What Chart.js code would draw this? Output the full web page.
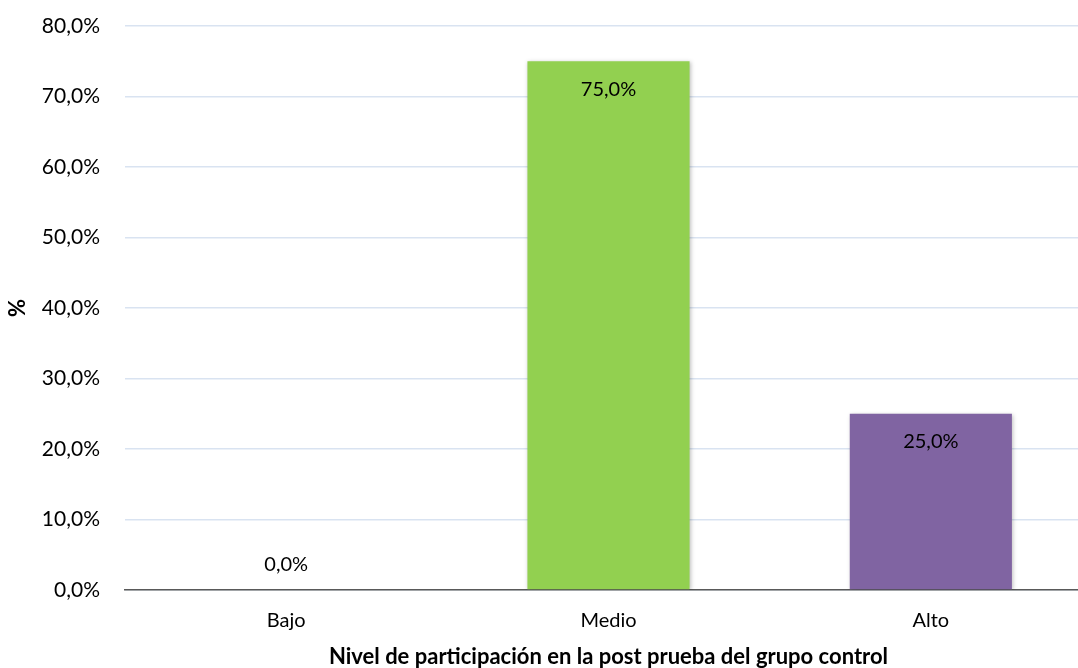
<!DOCTYPE html>
<html>
<head>
<meta charset="utf-8">
<script src="https://cdn.jsdelivr.net/npm/chart.js@4"></script>
<style>
    html, body { margin: 0; padding: 0; background: #fff; overflow: hidden; }
    #caja { width: 1092px; height: 668px; }
</style>
</head>
<body>
<div id="caja"><canvas id="grafico" width="1092" height="668"></canvas></div>
<script>
const categorias = ["Bajo", "Medio", "Alto"];
const porcentajes = [0, 75, 25];
const colores = ["#92D050", "#92D050", "#8064A2"];
const tituloX = "Nivel de participación en la post prueba del grupo control";
const tituloY = "%";

const fuente = "Lato, 'Open Sans', sans-serif";

function formatoPct(v) {
    return v.toFixed(1).replace(".", ",") + "%";
}

// etiquetas de valor y titulos de ejes
const etiquetas = {
    id: "etiquetas",
    beforeDatasetsDraw(chart) {
        chart.ctx.save();
        chart.ctx.shadowColor = "rgba(0,0,0,0.25)";
        chart.ctx.shadowBlur = 4;
        chart.ctx.shadowOffsetX = 1;
        chart.ctx.shadowOffsetY = 1;
    },
    afterDatasetsDraw(chart) {
        const ctx = chart.ctx;
        ctx.restore();
        const meta = chart.getDatasetMeta(0);
        ctx.save();
        ctx.fillStyle = "#000";
        ctx.font = "20px " + fuente;
        ctx.textAlign = "center";
        ctx.textBaseline = "middle";
        meta.data.forEach((bar, i) => {
            const v = porcentajes[i];
            const y = v > 0 ? bar.y + 28 : bar.y - 25;
            ctx.fillText(formatoPct(v), bar.x, y);
        });
        ctx.restore();
    },
    afterDraw(chart) {
        const ctx = chart.ctx;
        const area = chart.chartArea;
        ctx.save();
        ctx.fillStyle = "#000";
        ctx.font = "bold 22px " + fuente;
        ctx.textAlign = "center";
        ctx.textBaseline = "middle";
        ctx.fillText(tituloX, (area.left + area.right) / 2, 657);
        ctx.translate(18, (area.top + area.bottom) / 2);
        ctx.rotate(-Math.PI / 2);
        ctx.fillText(tituloY, 0, 0);
        ctx.restore();
    }
};

const ctx = document.getElementById("grafico").getContext("2d");
const grafico = new Chart(ctx, {
    type: "bar",
    data: {
        labels: categorias,
        datasets: [{
            data: porcentajes,
            backgroundColor: colores,
            borderWidth: 0,
            categoryPercentage: 1,
            barPercentage: 0.503
        }]
    },
    options: {
        responsive: false,
        animation: false,
        layout: { padding: { top: 26, right: 0, left: 0, bottom: 0 } },
        plugins: {
            legend: { display: false },
            tooltip: { enabled: false }
        },
        scales: {
            x: {
                grid: { display: false, drawTicks: false },
                border: { display: true, color: "#595959", width: 1.5 },
                ticks: { color: "#000", font: { family: fuente, size: 20 }, padding: 19 },
                afterFit(scale) { scale.height = 78; }
            },
            y: {
                min: 0,
                max: 80,
                ticks: {
                    stepSize: 10,
                    color: "#000",
                    font: { family: fuente, size: 21 },
                    padding: 25,
                    callback: v => formatoPct(v)
                },
                grid: { color: "#D9E3F1", lineWidth: 1.5, drawTicks: false },
                border: { display: false },
                afterFit(scale) {
                    scale.width = 125;
                    scale.paddingTop = 0;
                    scale.paddingBottom = 0;
                }
            }
        }
    },
    plugins: [etiquetas]
});
</script>
</body>
</html>
